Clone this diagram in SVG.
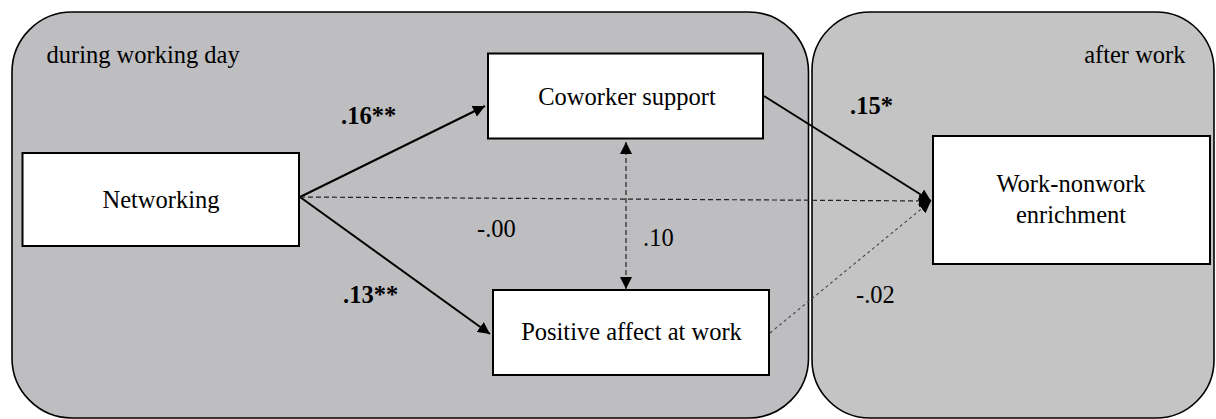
<svg xmlns="http://www.w3.org/2000/svg" width="1216" height="419" viewBox="0 0 1216 419">
<style>
.panel{stroke:#000;stroke-width:1.6}
.box{fill:#fff;stroke:#000;stroke-width:2}
.t{font-family:"Liberation Serif","Times New Roman",serif;font-size:24.5px;fill:#000}
.b{font-weight:bold}
.solid{stroke:#000;stroke-width:2;fill:none}
.dash{stroke:#222;stroke-width:1.2;stroke-dasharray:5 3;fill:none}
.dash2{stroke:#444;stroke-width:1.1;stroke-dasharray:3 3;fill:none}
</style>
<defs>
<marker id="ah" viewBox="0 0 12 12" refX="12" refY="6" markerWidth="12" markerHeight="12" markerUnits="userSpaceOnUse" orient="auto-start-reverse">
<path d="M0,0 L12,6 L0,12 z" fill="#000"/>
</marker>
</defs>
<rect width="1216" height="419" fill="#fff"/>
<g id="panel-day">
<rect class="panel" x="12" y="12" width="796.5" height="406" rx="60" ry="60" fill="#bebec0"/>
<text class="t" x="46.5" y="63">during working day</text>
</g>
<g id="panel-after">
<rect class="panel" x="812" y="12" width="402" height="406" rx="58" ry="58" fill="#c4c4c4"/>
<text class="t" x="1185.5" y="63" text-anchor="end">after work</text>
</g>
<g id="connectors">
<line class="solid" x1="300" y1="197" x2="485" y2="106" marker-end="url(#ah)"/>
<line class="solid" x1="300" y1="197" x2="490" y2="334" marker-end="url(#ah)"/>
<line class="dash" x1="300" y1="197" x2="931" y2="201" marker-end="url(#ah)"/>
<line class="solid" x1="764" y1="96" x2="931" y2="201" marker-end="url(#ah)"/>
<line class="dash2" x1="770" y1="333" x2="931" y2="201" marker-end="url(#ah)"/>
<line class="dash" x1="626" y1="142" x2="626" y2="289" marker-start="url(#ah)" marker-end="url(#ah)"/>
<text class="t b" x="341" y="124">.16**</text>
<text class="t b" x="343" y="303">.13**</text>
<text class="t b" x="850" y="114">.15*</text>
<text class="t" x="477" y="237">-.00</text>
<text class="t" x="643" y="246">.10</text>
<text class="t" x="856" y="303">-.02</text>
</g>
<g id="node-networking">
<rect class="box" x="22.5" y="153" width="276.5" height="93"/>
<text class="t" x="161" y="208" text-anchor="middle">Networking</text>
</g>
<g id="node-coworker">
<rect class="box" x="488" y="53.5" width="275" height="85"/>
<text class="t" x="627" y="105" text-anchor="middle">Coworker support</text>
</g>
<g id="node-positive">
<rect class="box" x="493" y="290" width="276" height="85"/>
<text class="t" x="631.5" y="340" text-anchor="middle">Positive affect at work</text>
</g>
<g id="node-enrichment">
<rect class="box" x="933" y="136" width="277" height="128"/>
<text class="t" x="1071" y="192" text-anchor="middle">Work-nonwork</text>
<text class="t" x="1071" y="223" text-anchor="middle">enrichment</text>
</g>
</svg>
